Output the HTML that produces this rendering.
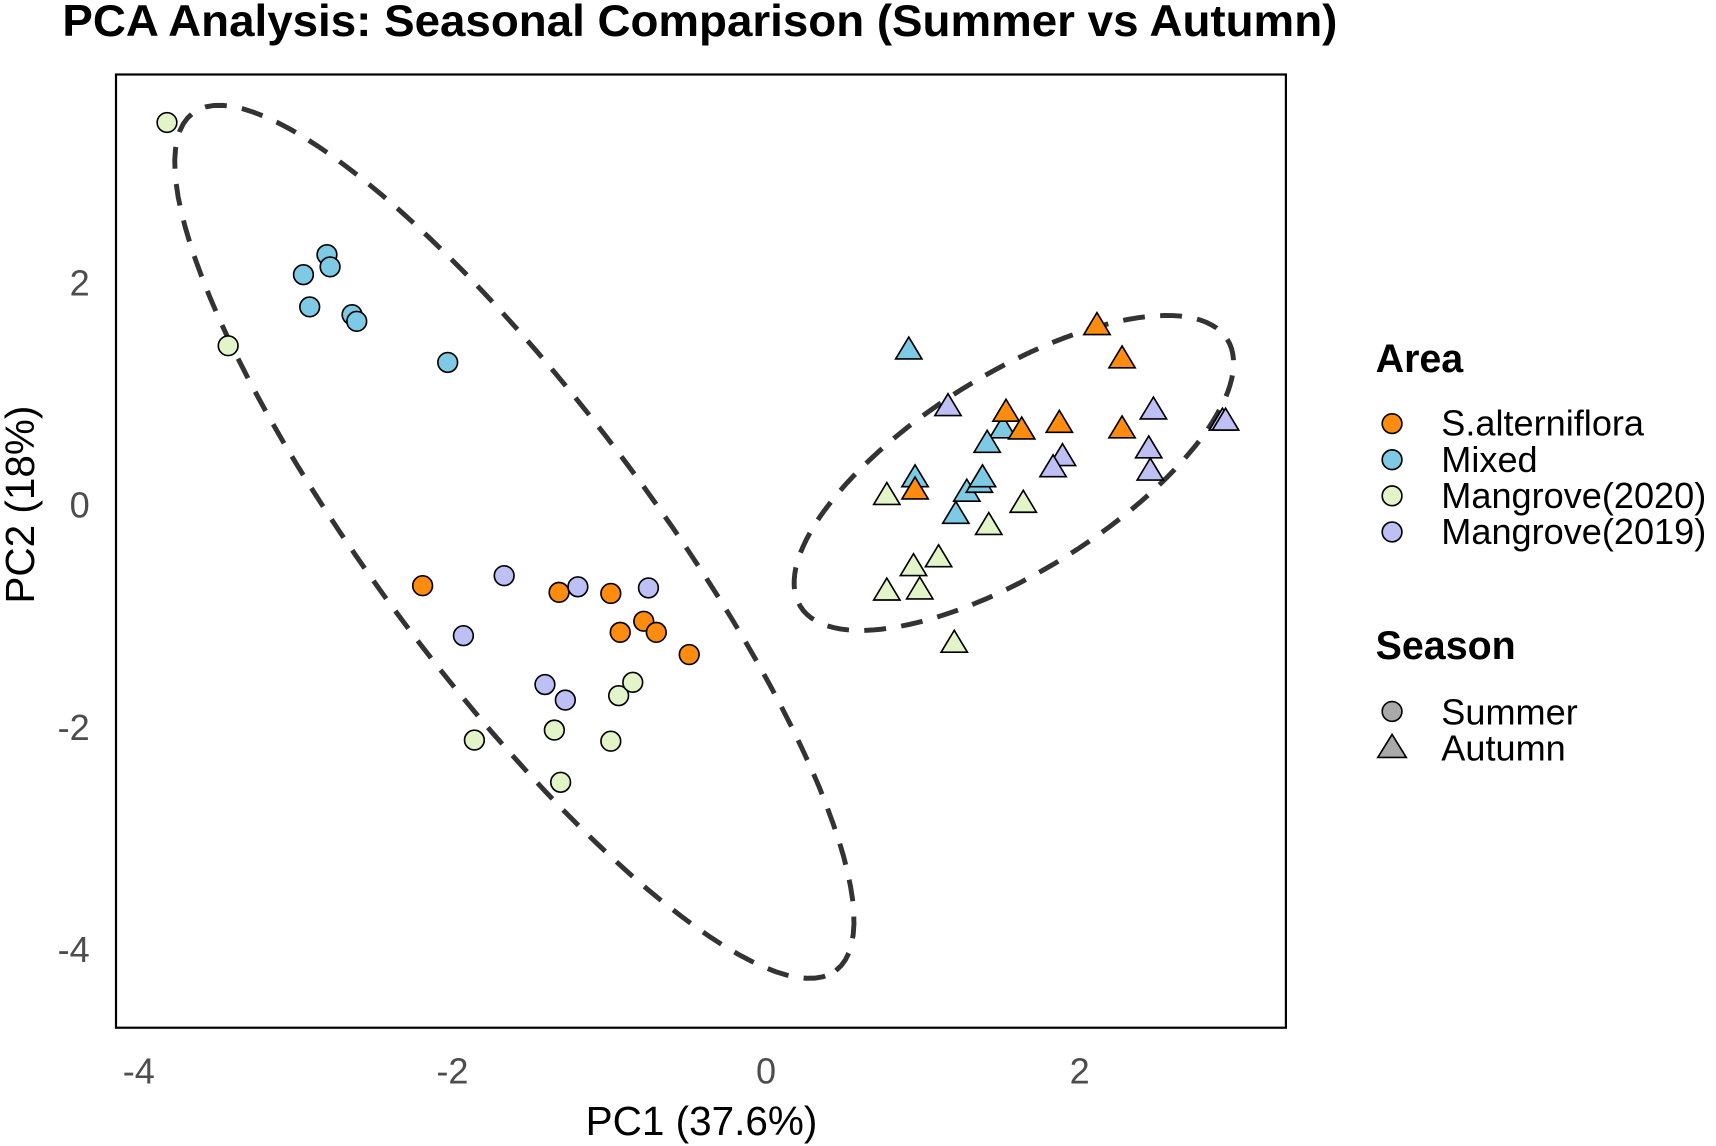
<!DOCTYPE html>
<html><head><meta charset="utf-8"><style>
html,body{margin:0;padding:0;background:#fff;}
svg{display:block;font-family:"Liberation Sans",Arial,sans-serif;}
</style></head><body>
<svg id="chart" width="1716" height="1146" viewBox="0 0 1568 1047" xmlns="http://www.w3.org/2000/svg">
<rect x="0" y="0" width="1568" height="1047" fill="#fff"/>
<text x="57" y="33" font-size="41" font-weight="bold" fill="#000" textLength="1165" lengthAdjust="spacingAndGlyphs">PCA Analysis: Seasonal Comparison (Summer vs Autumn)</text>
<rect x="106" y="68" width="1069" height="871" fill="none" stroke="#000" stroke-width="2"/>
<g id="ellipses"></g>
<g id="points"></g>
<g id="xticks"></g>
<g id="yticks"></g>
<text x="641" y="1037" font-size="37" text-anchor="middle" fill="#000">PC1 (37.6%)</text>
<text transform="translate(31,461) rotate(-90)" font-size="37" text-anchor="middle" fill="#000">PC2 (18%)</text>
<g>
<text x="1257" y="340" font-size="36" font-weight="bold">Area</text>
<circle cx="1272" cy="387" r="9" fill="#FF8C0F" stroke="#000" stroke-width="1.5"/>
<text x="1317" y="398" font-size="33">S.alterniflora</text>
<circle cx="1272" cy="420" r="9" fill="#7EC9E3" stroke="#000" stroke-width="1.5"/>
<text x="1317" y="431" font-size="33">Mixed</text>
<circle cx="1272" cy="453" r="9" fill="#E3F5C8" stroke="#000" stroke-width="1.5"/>
<text x="1317" y="464" font-size="33">Mangrove(2020)</text>
<circle cx="1272" cy="486" r="9" fill="#BEBFF5" stroke="#000" stroke-width="1.5"/>
<text x="1317" y="497" font-size="33">Mangrove(2019)</text>
</g>
<g>
<text x="1257" y="602" font-size="36" font-weight="bold">Season</text>
<circle cx="1272" cy="650" r="9" fill="#A9A9A9" stroke="#000" stroke-width="1.5"/>
<text x="1317" y="662" font-size="33">Summer</text>
<polygon points="1272,671 1285,692 1259,692" fill="#A9A9A9" stroke="#000" stroke-width="1.5"/>
<text x="1317" y="695" font-size="33">Autumn</text>
</g>
</svg>
<script>
const xTicks = [-4, -2, 0, 2];
const yTicks = [2, 0, -2, -4];
const areas = ["S.alterniflora", "Mixed", "Mangrove(2020)", "Mangrove(2019)"];
const areaColors = ["#FF8C0F", "#7EC9E3", "#E3F5C8", "#BEBFF5"];
// Summer points
const summerArea = [2,2,2,2,2,2,2,2, 1,1,1,1,1,1,1, 0,0,0,0,0,0,0, 3,3,3,3,3,3];
const summerX = [-3.82,-3.43,-1.86,-1.35,-1.31,-0.94,-0.85,-0.99, -2.95,-2.80,-2.78,-2.91,-2.64,-2.61,-2.03, -2.19,-1.32,-0.99,-0.78,-0.93,-0.70,-0.49, -1.67,-1.20,-0.75,-1.93,-1.41,-1.28];
const summerY = [3.44,1.43,-2.12,-2.03,-2.50,-1.72,-1.60,-2.13, 2.07,2.25,2.14,1.78,1.71,1.65,1.28, -0.73,-0.79,-0.80,-1.05,-1.15,-1.15,-1.35, -0.64,-0.74,-0.75,-1.18,-1.62,-1.76];
// Autumn points
const autumnArea = [1,1,1,1,1,1,1,1, 0,0,0,0,0,0,0, 3,3,3,3,3,3,3,3, 2,2,2,2,2,2,2,2];
const autumnX = [0.91,0.95,1.51,1.41,1.28,1.36,1.38,1.21, 2.11,2.27,1.53,1.63,1.87,2.27,0.95, 1.16,2.47,1.89,1.83,2.44,2.45,2.91,2.93, 0.77,1.64,1.42,1.10,0.94,0.77,0.98,1.20];
const autumnY = [1.39,0.24,0.68,0.55,0.11,0.19,0.24,-0.09, 1.61,1.31,0.83,0.67,0.73,0.68,0.13, 0.88,0.85,0.43,0.33,0.50,0.30,0.75,0.75, 0.08,0.01,-0.19,-0.48,-0.56,-0.78,-0.77,-1.25];
// Ellipses: center, semi-axis vectors (data units)
const ellipseNames = ["summer-ellipse", "autumn-ellipse"];
const ellipseCX = [-1.605, 1.58];
const ellipseCY = [-0.335, 0.285];
const ellipseAX = [2.05, 1.361];
const ellipseAY = [-3.86, 1.202];
const ellipseBX = [0.698, 0.333];
const ellipseBY = [0.739, -0.752];

const NS = "http://www.w3.org/2000/svg";
const sx = v => 700 + v * 143.3;
const sy = v => 461 - v * 101.5;

const xg = document.getElementById("xticks");
xTicks.forEach(t => {
  const tx = document.createElementNS(NS, "text");
  tx.setAttribute("x", sx(t)); tx.setAttribute("y", 990);
  tx.setAttribute("font-size", "33"); tx.setAttribute("fill", "#4d4d4d");
  tx.setAttribute("text-anchor", "middle");
  
  
  tx.textContent = t; xg.appendChild(tx);
});
const yg = document.getElementById("yticks");
yTicks.forEach(t => {
  const tx = document.createElementNS(NS, "text");
  tx.setAttribute("x", 82); tx.setAttribute("y", sy(t) + 12);
  tx.setAttribute("font-size", "33"); tx.setAttribute("fill", "#4d4d4d");
  tx.setAttribute("text-anchor", "end");
  
  
  tx.textContent = t; yg.appendChild(tx);
});

const eg = document.getElementById("ellipses");
ellipseNames.forEach((n, i) => {
  let d = "";
  for (let k = 0; k <= 120; k++) {
    const a = k / 120 * 2 * Math.PI;
    const x = ellipseCX[i] + ellipseAX[i] * Math.cos(a) + ellipseBX[i] * Math.sin(a);
    const y = ellipseCY[i] + ellipseAY[i] * Math.cos(a) + ellipseBY[i] * Math.sin(a);
    d += (k ? "L" : "M") + sx(x).toFixed(1) + "," + sy(y).toFixed(1);
  }
  const p = document.createElementNS(NS, "path");
  p.setAttribute("d", d + "Z");
  p.setAttribute("fill", "none"); p.setAttribute("stroke", "#333");
  p.setAttribute("stroke-width", "4.5"); p.setAttribute("stroke-dasharray", "20 14");
  
  
  eg.appendChild(p);
});

const pg = document.getElementById("points");
summerX.forEach((x, i) => {
  const c = document.createElementNS(NS, "circle");
  c.setAttribute("cx", sx(x)); c.setAttribute("cy", sy(summerY[i])); c.setAttribute("r", 9);
  c.setAttribute("fill", areaColors[summerArea[i]]); c.setAttribute("stroke", "#000"); c.setAttribute("stroke-width", "1.5");
  
  
  pg.appendChild(c);
});
autumnX.forEach((x, i) => {
  const cx = sx(x), cy = sy(autumnY[i]);
  const t = document.createElementNS(NS, "polygon");
  t.setAttribute("points", `${cx},${cy-12} ${cx+12},${cy+8} ${cx-12},${cy+8}`);
  t.setAttribute("fill", areaColors[autumnArea[i]]); t.setAttribute("stroke", "#000"); t.setAttribute("stroke-width", "1.5");
  
  
  pg.appendChild(t);
});
</script>
</body></html>
